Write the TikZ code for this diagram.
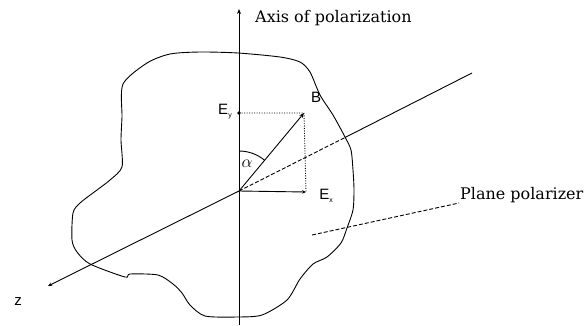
\documentclass[tikz,border=0pt]{standalone}
\usepackage{fontspec}
\setmainfont{DejaVu Serif}
\newfontfamily\lsans{Liberation Sans}
\usetikzlibrary{arrows.meta}
\begin{document}
\begin{tikzpicture}[x=1pt,y=-1pt,
  ln/.style={line width=0.9pt, black},
  tipa/.style={-{Stealth[length=5pt,width=4pt]}},
  lbl/.style={inner sep=0pt, anchor=base west, font=\fontsize{16}{18}\selectfont},
  sym/.style={inner sep=0pt, font=\lsans\fontsize{15}{17}\selectfont},
  dotline/.style={ln, dash pattern=on 1pt off 1.5pt},
  dashline/.style={ln, dash pattern=on 4pt off 2pt}]
\useasboundingbox (0,0) rectangle (587,325);

% key points
\coordinate (O)   at (239,191);
\coordinate (Atop) at (239,9);
\coordinate (Abot) at (239,325);
\coordinate (Ey)  at (239,113);
\coordinate (Ex)  at (306,192);
\coordinate (Bt)  at (304,113);
\coordinate (Dc)  at (304,113);
\coordinate (ZL)  at (48,286);
\coordinate (ZC)  at (345,137.5);
\coordinate (ZR)  at (472,73);
\coordinate (Pa)  at (312,235);

% polarizer outline
\draw[ln] plot[smooth cycle, tension=0.45] coordinates {
 (170,54) (200,52) (238,53) (280,57) (300,62) (310,72) (320,95) (333,115)
 (345,137) (351,150) (353,170) (354,190) (353,210) (347,228) (341,243)
 (327,257) (313,264) (300,279) (287,300) (262,315) (237,317) (205,316)
 (190,305) (182,293) (173,284) (158,275) (130,274) (125,277) (90,264)
 (77,252) (72,240) (73,213) (80,203) (97,190) (110,180) (122,167)
 (121,140) (122,117) (123,84) (147,63)};

% axis of polarization
\draw[ln, tipa] (Abot) -- (Atop);

% z axis
\draw[ln, -{Stealth[length=4pt,width=3.5pt]}] (O) -- (ZL);
\draw[dashline] (O) -- (ZC);
\draw[ln] (ZC) -- (ZR);

% components
\draw[dotline] (Ey) -- (Dc) -- (Ex);
\draw[ln, -{Stealth[length=4pt,width=3.5pt]}] (O) -- (Ex);
\draw[ln, tipa] (O) -- (Bt);
\fill[black] (Ey) circle (1.8pt);

% angle alpha
\draw[ln] (239,151) arc[start angle=-90, end angle=-50, radius=40];
\node[inner sep=0pt, font=\fontsize{19}{21}\selectfont] (al) at (247,164) {$\alpha$};

% labels
\node[sym] (lB) at (316,97) {B};
\node[sym] (lEy) at (225,112) {E\raisebox{-3pt}{\fontsize{7}{8}\selectfont y}};
\node[sym] (lEx) at (326,196) {E\raisebox{-3pt}{\fontsize{7}{8}\selectfont x}};
\node[sym] (lz) at (18,302) {z};
\node[lbl] (lax) at (255,22) {Axis of polarization};
\node[lbl] (lpp) at (460,199) {Plane polarizer};
\coordinate (Pb) at ([xshift=-1pt,yshift=-4pt]lpp.base west);
\draw[dashline] (Pa) -- (Pb);
\end{tikzpicture}
\end{document}
